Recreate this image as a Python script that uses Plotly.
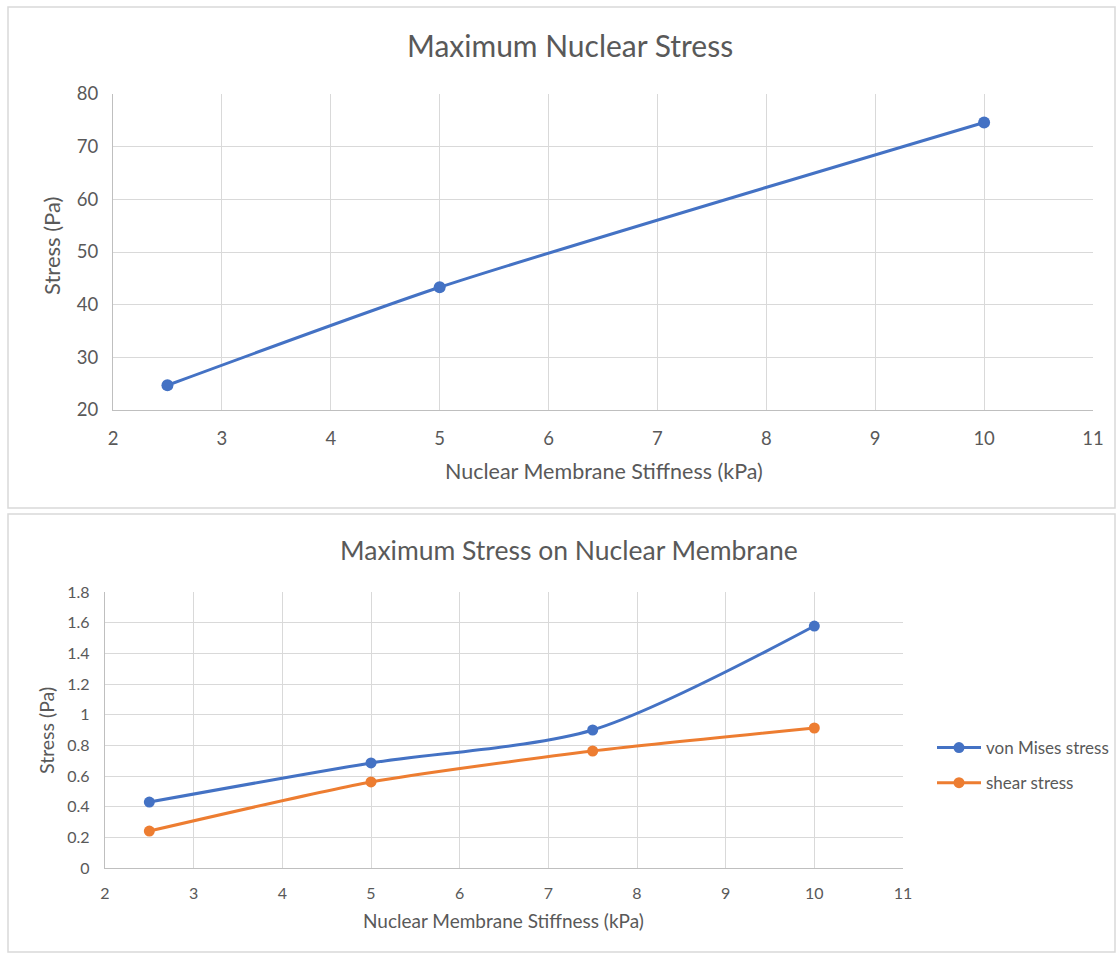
import plotly.graph_objects as go

W, H = 1116, 953

# Top chart data
top_x = [2.5, 5, 10]
top_y = [24.7, 43.3, 74.6]

# Bottom chart data
bot_x = [2.5, 5, 7.5, 10]
von_mises = [0.43, 0.685, 0.90, 1.578]
shear = [0.241, 0.561, 0.763, 0.913]

x_ticks = [2, 3, 4, 5, 6, 7, 8, 9, 10, 11]
top_y_ticks = [20, 30, 40, 50, 60, 70, 80]
bot_y_ticks = [0, 0.2, 0.4, 0.6, 0.8, 1.0, 1.2, 1.4, 1.6, 1.8]
bot_y_labels = ["0", "0.2", "0.4", "0.6", "0.8", "1", "1.2", "1.4", "1.6", "1.8"]

BLUE = "#4472C4"
ORANGE = "#ED7D31"
TXT = "#595959"
GRID = "#D9D9D9"
FONT = "Lato"

def px(x):
    return x / W

def py(y):
    return 1 - y / H

fig = go.Figure()

fig.add_trace(go.Scatter(x=top_x, y=top_y, mode="lines+markers",
                         line=dict(color=BLUE, width=3, shape="spline", smoothing=0.6),
                         marker=dict(size=12, color=BLUE),
                         xaxis="x", yaxis="y", showlegend=False))

fig.add_trace(go.Scatter(x=bot_x, y=von_mises, mode="lines+markers", name="von Mises stress",
                         legendgroup="a",
                         line=dict(color=BLUE, width=3, shape="spline", smoothing=0.8),
                         marker=dict(size=11, color=BLUE),
                         xaxis="x2", yaxis="y2"))
fig.add_trace(go.Scatter(x=bot_x, y=shear, mode="lines+markers", name="shear stress",
                         legendgroup="b",
                         line=dict(color=ORANGE, width=3, shape="spline", smoothing=0.6),
                         marker=dict(size=11, color=ORANGE),
                         xaxis="x2", yaxis="y2"))

def ax(size, standoff, **kw):
    d = dict(showgrid=True, gridcolor=GRID, gridwidth=1.3, zeroline=False,
             showline=True, linecolor="#BFBFBF", linewidth=1.3, ticks="",
             automargin=False, ticklabelstandoff=standoff,
             tickfont=dict(family=FONT, color=TXT, size=size))
    d.update(kw)
    return d

fig.update_layout(
    template="none",
    width=W, height=H,
    margin=dict(l=0, r=0, t=0, b=0, pad=0, autoexpand=False),
    paper_bgcolor="white", plot_bgcolor="white",
    font=dict(family=FONT, color=TXT),
    xaxis=ax(18.5, 12, domain=[px(113), px(1093)], range=[2, 11], tickvals=x_ticks, anchor="y"),
    yaxis=ax(18.5, 10, domain=[py(410), py(94)], range=[20, 80], tickvals=top_y_ticks, anchor="x"),
    xaxis2=ax(16, 11, domain=[px(105), px(903)], range=[2, 11], tickvals=x_ticks, anchor="y2"),
    yaxis2=ax(16, 11, domain=[py(868), py(592)], range=[0, 1.8], tickvals=bot_y_ticks,
              ticktext=bot_y_labels, anchor="x2"),
    legend=dict(x=px(932), y=py(730), xanchor="left", yanchor="top",
                font=dict(family=FONT, size=17, color=TXT), bgcolor="rgba(0,0,0,0)",
                borderwidth=0, tracegroupgap=10, itemwidth=44),
    shapes=[
        dict(type="rect", xref="paper", yref="paper", x0=px(8), x1=px(1115), y0=py(508), y1=py(7),
             line=dict(color="#D9D9D9", width=1.5), fillcolor="rgba(0,0,0,0)", layer="below"),
        dict(type="rect", xref="paper", yref="paper", x0=px(8), x1=px(1115), y0=py(952), y1=py(514),
             line=dict(color="#D9D9D9", width=1.5), fillcolor="rgba(0,0,0,0)", layer="below"),
    ],
    annotations=[
        dict(text="Maximum Nuclear Stress", x=px(570), y=py(45), xref="paper", yref="paper",
             showarrow=False, font=dict(family=FONT, size=30, color=TXT), xanchor="center", yanchor="middle"),
        dict(text="Nuclear Membrane Stiffness (kPa)", x=px(604), y=py(471), xref="paper", yref="paper",
             showarrow=False, font=dict(family=FONT, size=21.5, color=TXT), xanchor="center", yanchor="middle"),
        dict(text="Stress (Pa)", x=px(52), y=py(246), xref="paper", yref="paper", textangle=-90,
             showarrow=False, font=dict(family=FONT, size=22, color=TXT), xanchor="center", yanchor="middle"),
        dict(text="Maximum Stress on Nuclear Membrane", x=px(569), y=py(550), xref="paper", yref="paper",
             showarrow=False, font=dict(family=FONT, size=26.5, color=TXT), xanchor="center", yanchor="middle"),
        dict(text="Nuclear Membrane Stiffness (kPa)", x=px(503), y=py(920), xref="paper", yref="paper",
             showarrow=False, font=dict(family=FONT, size=19, color=TXT), xanchor="center", yanchor="middle"),
        dict(text="Stress (Pa)", x=px(46), y=py(731), xref="paper", yref="paper", textangle=-90,
             showarrow=False, font=dict(family=FONT, size=19.5, color=TXT), xanchor="center", yanchor="middle"),
    ],
)

fig.write_html("out.html",
               post_script="document.body.style.margin='0';document.body.style.overflow='hidden';")
